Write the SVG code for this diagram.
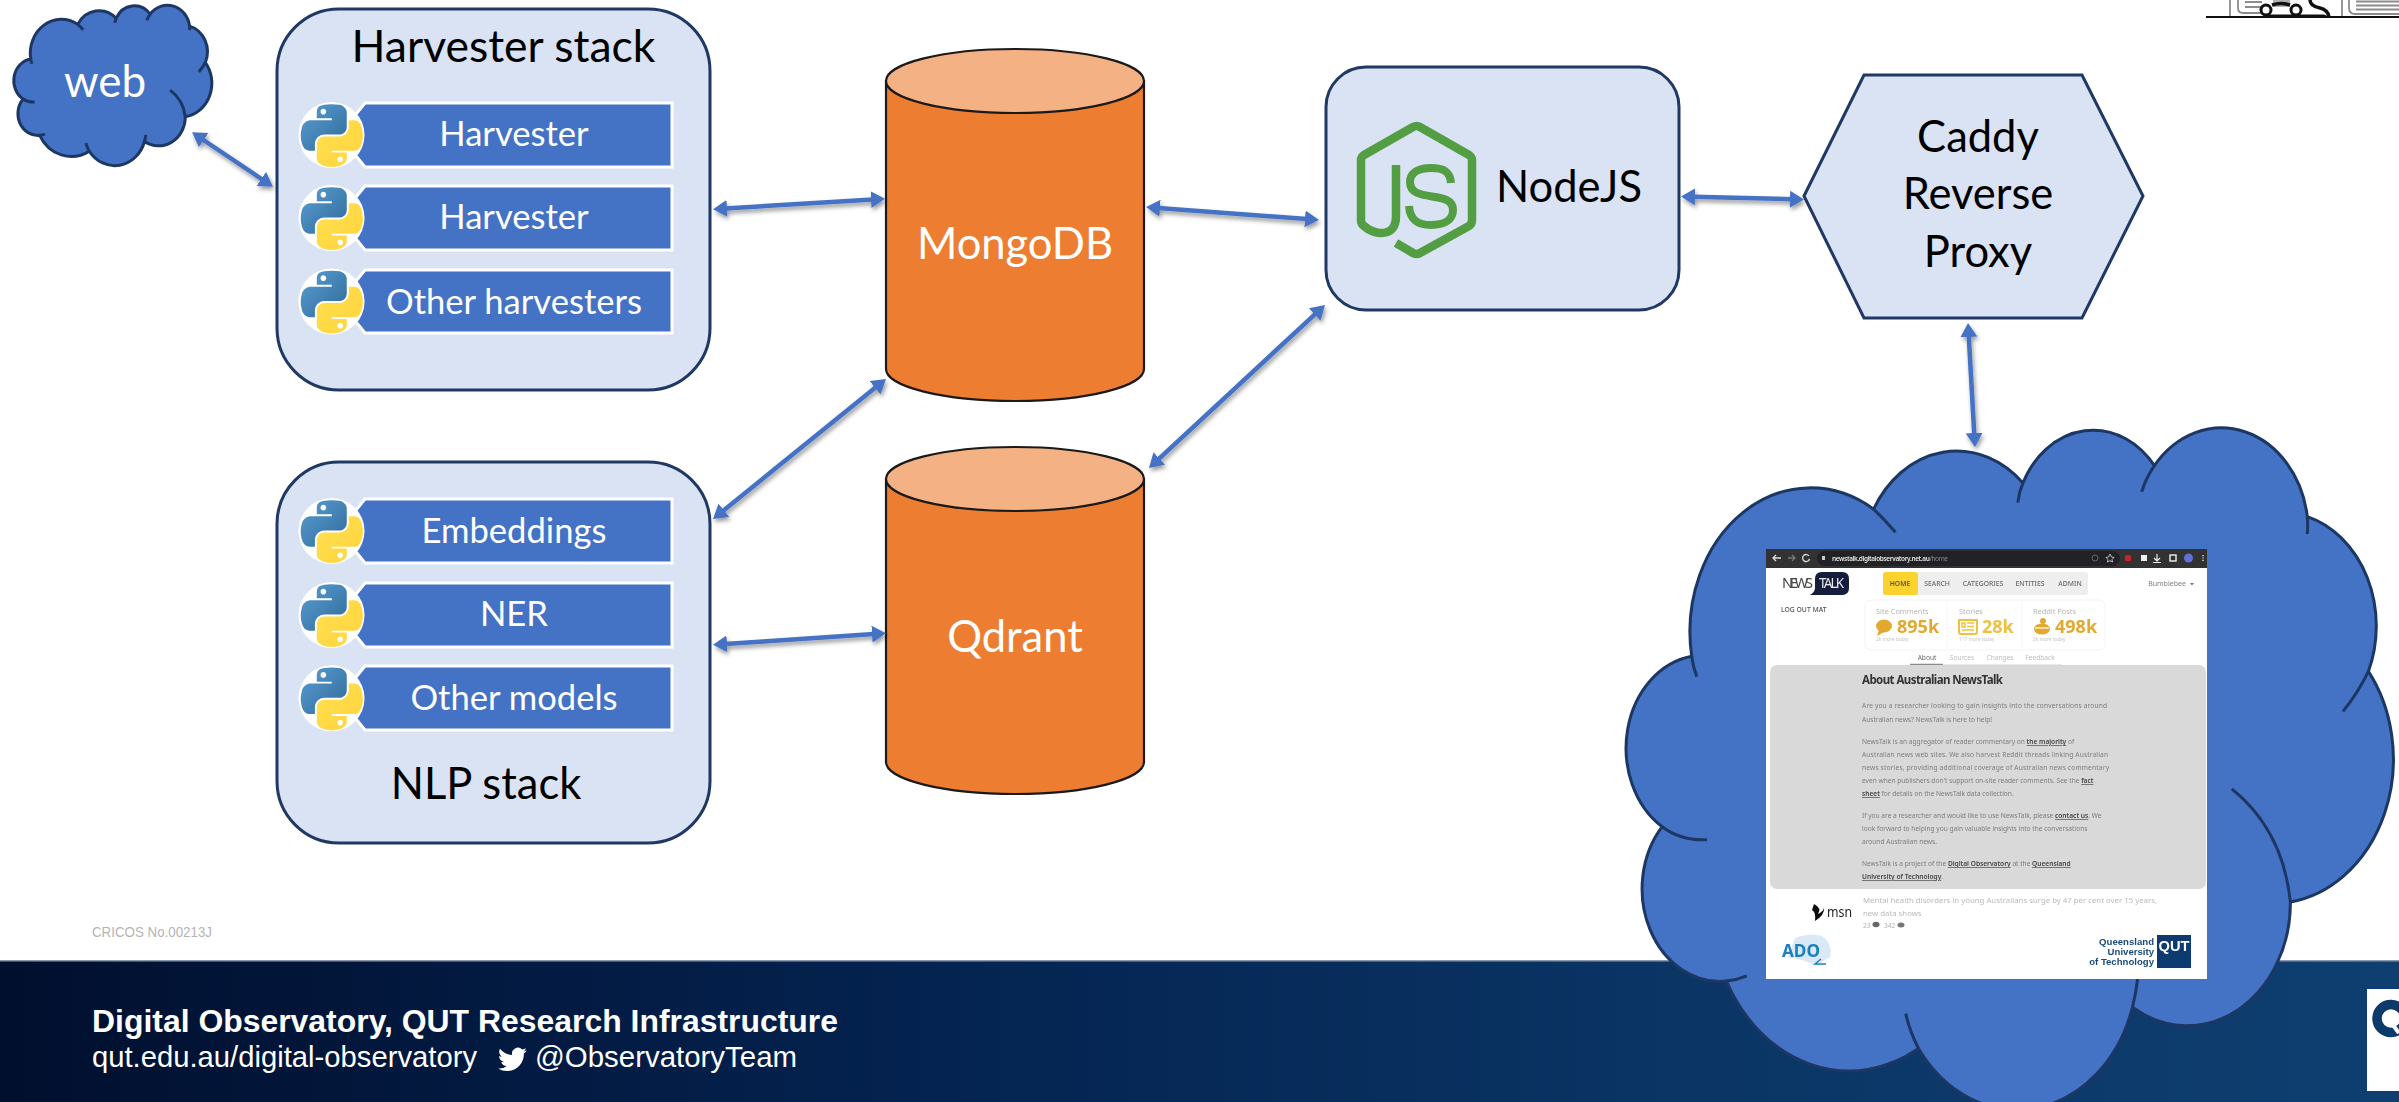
<svg xmlns="http://www.w3.org/2000/svg" xmlns:xlink="http://www.w3.org/1999/xlink" width="2399" height="1102" viewBox="0 0 2399 1102">
<style>
text{font-family:Lato,"Liberation Sans",sans-serif}
.box{fill:#dae3f3;stroke:#1f3864;stroke-width:3}
.bar{fill:#4472c4;stroke:#fff;stroke-width:3}
.wl{fill:#fff;text-anchor:middle;font-size:34.600px}
.bl{fill:#000;text-anchor:middle;font-size:43.500px}
.cyl{fill:#ed7d31;stroke:#1a1a1a;stroke-width:2.2}
.cap{fill:#f4b183;stroke:#1a1a1a;stroke-width:2.2}
.cl{fill:#4472c4;stroke:#1c3763;stroke-width:3;stroke-linejoin:round}
.cli{fill:none;stroke:#1c3763;stroke-width:3}
.conn{fill:none;stroke:#4472c4;stroke-width:4.500;marker-start:url(#ah);marker-end:url(#ah)}
.ft{font-family:"Liberation Sans",Arial,sans-serif;fill:#fff}
#screenshot text{font-family:"Noto Sans","Open Sans",sans-serif}
.p{font-size:6.600px;fill:#7d7d7d}
.p tspan{font-weight:600;fill:#444;text-decoration:underline}
.nav{font-size:6.800px;fill:#6a6a6a;text-anchor:middle;font-weight:500}
.lab{font-size:7.400px;fill:#b5b5b5}
.sub{font-size:4.800px;fill:#c4c4c4}
.num{font-size:18px;font-weight:700;fill:#e3a92f}
.tab{font-size:6.600px;fill:#bdbdbd;text-anchor:middle}
.qu{font-family:"Liberation Sans",Arial,sans-serif!important;font-weight:700;font-size:9.600px;fill:#1b4a7c;text-anchor:end}
.tr{fill:none;stroke:#8c8c8c;stroke-width:1.800}
</style>
<defs>
<linearGradient id="footg" x1="0" x2="1" y1="0" y2="0">
<stop offset="0" stop-color="#010f2e"/><stop offset=".375" stop-color="#04224f"/><stop offset=".7" stop-color="#0a3565"/><stop offset="1" stop-color="#0e3f70"/>
</linearGradient>
<linearGradient id="pyb" x1="0" y1="0" x2="1" y2="1"><stop offset="0" stop-color="#5a9fd4"/><stop offset="1" stop-color="#306998"/></linearGradient>
<linearGradient id="pyy" x1="0" y1="0" x2="1" y2="1"><stop offset="0" stop-color="#ffe052"/><stop offset="1" stop-color="#ffd43b"/></linearGradient>
<marker id="ah" markerUnits="userSpaceOnUse" markerWidth="18" markerHeight="18" viewBox="0 0 18 18" refX="2" refY="9" orient="auto-start-reverse"><path d="M14,9 L0,0.500 L0,17.500 Z" fill="#4472c4"/></marker>
<filter id="shadow" x="-10%" y="-10%" width="120%" height="120%"><feDropShadow dx="1.500" dy="3" stdDeviation="2.200" flood-color="#000" flood-opacity=".4"/></filter>
<filter id="soft" x="-2%" y="-2%" width="104%" height="104%"><feGaussianBlur stdDeviation=".5"/></filter>
<g id="py">
<circle cx="55" cy="55" r="59" fill="#fff"/>
<path fill="url(#pyb)" d="M54.92 0c-4.58.02-8.96.41-12.8 1.09C30.79 3.1 28.74 7.3 28.74 15.03v10.21h26.79v3.4H18.66c-7.79 0-14.6 4.68-16.74 13.58-2.46 10.2-2.57 16.57 0 27.22 1.9 7.93 6.45 13.58 14.24 13.58h9.21V70.8c0-8.84 7.65-16.64 16.74-16.64h26.76c7.45 0 13.39-6.13 13.39-13.61V15.03c0-7.26-6.12-12.71-13.39-13.94C64.28.31 59.5-.02 54.92 0zM40.43 8.21c2.77 0 5.03 2.3 5.03 5.12 0 2.81-2.26 5.1-5.03 5.1-2.78 0-5.03-2.29-5.03-5.1 0-2.82 2.25-5.12 5.03-5.12z"/>
<path fill="url(#pyy)" d="M85.64 28.64v11.91c0 9.23-7.83 17-16.75 17H42.13c-7.33 0-13.39 6.27-13.39 13.61v25.52c0 7.26 6.32 11.53 13.39 13.61 8.47 2.49 16.6 2.94 26.76 0 6.75-1.96 13.39-5.89 13.39-13.61V86.47H55.53v-3.4h40.15c7.79 0 10.69-5.43 13.39-13.58 2.79-8.39 2.67-16.46 0-27.22-1.92-7.75-5.59-13.58-13.39-13.58H85.64zM70.59 93.27c2.78 0 5.03 2.28 5.03 5.1 0 2.82-2.25 5.12-5.03 5.12-2.77 0-5.03-2.3-5.03-5.12 0-2.82 2.26-5.1 5.03-5.1z"/>
</g>
<path id="cloudbody" class="cl" vector-effect="non-scaling-stroke" d="M1691.7,656.2 A120.5,143.8 0 0 1 1873.6,509.2 A95.2,113.7 0 0 1 2022.9,483.1 A77.9,93 0 0 1 2154.4,465.7 A86.7,103.2 0 0 1 2307.3,516.6 A95.2,113.8 0 0 1 2368.4,671.4 A120.9,144.3 0 0 1 2290.4,902 A103.3,123.1 0 0 1 2132.5,1007.2 A120.5,144.2 0 0 1 1918.5,1048.5 A137.8,165 0 0 1 1726.4,981.1 A77.8,92.6 0 0 1 1662.2,826.7 A77.6,93 0 0 1 1691.7,656.2 Z"/>
<path id="cloudinner" class="cli" vector-effect="non-scaling-stroke" d="M1691.7,656.2 Q1693,667 1696.8,676.6 M1662.2,826.7 Q1681,841 1707,839.7 M1726.4,981.1 Q1737,980 1746.8,975.9 M1905.7,1013.7 Q1910,1032 1918.5,1048.5 M2132.5,1007.2 Q2136,993 2137.6,979 M2290.4,902 Q2283,830 2231.8,788.9 M2368.4,671.4 Q2358,693 2343,711.4 M2307.3,516.6 Q2308,525 2307.3,534 M2154.4,465.7 Q2146,478 2141.7,491.8 M2022.9,483.1 Q2019,492 2017.8,502.6 M1873.6,509.2 Q1885,520 1895.5,532.2"/>
</defs>
<rect width="2399" height="1102" fill="#fff"/>

<g id="footer">
<rect x="0" y="961" width="2399" height="141" fill="url(#footg)"/>
<rect x="0" y="960" width="2399" height="1.500" fill="#8d99ad"/>
<text x="92" y="937" font-size="14.500px" style="font-family:'Liberation Sans',Arial,sans-serif" fill="#b4b4b4" textLength="120" lengthAdjust="spacingAndGlyphs">CRICOS No.00213J</text>
<text class="ft" x="92" y="1032" font-size="31.500px" font-weight="700" textLength="746" lengthAdjust="spacingAndGlyphs">Digital Observatory, QUT Research Infrastructure</text>
<text class="ft" x="92" y="1067" font-size="29px" textLength="385" lengthAdjust="spacingAndGlyphs">qut.edu.au/digital-observatory</text>
<path transform="translate(498,1045) scale(1.2)" fill="#fff" d="M23.95 4.57a10 10 0 0 1-2.82.77 4.96 4.96 0 0 0 2.16-2.72c-.95.55-2 .95-3.12 1.18a4.92 4.92 0 0 0-8.38 4.48A13.98 13.98 0 0 1 1.67 3.15a4.93 4.93 0 0 0 1.52 6.57 4.9 4.9 0 0 1-2.23-.61v.06a4.92 4.92 0 0 0 3.95 4.83 5 5 0 0 1-2.22.08 4.94 4.94 0 0 0 4.6 3.42A9.87 9.87 0 0 1 0 19.54a13.94 13.94 0 0 0 7.55 2.21c9.05 0 14-7.5 14-14 0-.21 0-.42-.02-.63a9.94 9.94 0 0 0 2.46-2.55z"/>
<text class="ft" x="535" y="1067" font-size="29px" textLength="262" lengthAdjust="spacingAndGlyphs">@ObservatoryTeam</text>
<rect x="2367" y="989" width="32" height="102" fill="#fff"/>
<circle cx="2391" cy="1018.500" r="14" fill="none" stroke="#0c3a6b" stroke-width="9.500"/>
<path d="M2390,1021 L2399,1033" stroke="#fff" stroke-width="4" fill="none"/>
</g>

<g id="top-right-fragment">
<rect x="2273" y="0" width="17" height="7" fill="#b0b0b0"/>
<path class="tr" d="M2230,0 V17 M2238,0 V8 Q2238,13 2243,13 H2262 M2342,0 V17 M2349,0 V8 Q2349,14 2355,14 H2399 M2245,2 H2262 M2245,7 H2262 M2356,1.500 H2399 M2356,5.500 H2399 M2356,9.500 H2399"/>
<circle cx="2266" cy="10" r="5" fill="#fff" stroke="#111" stroke-width="3"/>
<circle cx="2296" cy="10" r="5" fill="#fff" stroke="#111" stroke-width="3"/>
<path d="M2272,5 Q2281,2 2290,5 M2310,0 Q2310,6 2320,8 Q2328,10 2329,17" fill="none" stroke="#111" stroke-width="3.500"/>
<path d="M2264,17 L2270,14.500 H2324 L2330,17 Z" fill="#111"/>
<path d="M2206,17 H2399" stroke="#111" stroke-width="2" fill="none"/>
</g>

<g id="web">
<use href="#cloudbody" transform="translate(-405.9,-95.4) scale(.2581,.2352)"/>
<use href="#cloudinner" transform="translate(-405.9,-95.4) scale(.2581,.2352)"/>
<text x="105" y="97" font-size="44px" fill="#fff" text-anchor="middle">web</text>
</g>

<g id="harvester-stack">
<rect class="box" x="277" y="9" width="433" height="381" rx="62" ry="62"/>
<text class="bl" x="503.500" y="62" style="font-size:44.500px">Harvester stack</text>
</g>
<g id="harvester-1">
<path class="bar" d="M365,103 H672 V167 H365 L352,151 V119 Z"/>
<use href="#py" transform="translate(300.7,104.2) scale(.56)"/>
<text class="wl" x="514" y="146">Harvester</text>
</g>
<g id="harvester-2">
<path class="bar" d="M365,186 H672 V250 H365 L352,234 V202 Z"/>
<use href="#py" transform="translate(300.7,187.2) scale(.56)"/>
<text class="wl" x="514" y="229">Harvester</text>
</g>
<g id="other-harvesters">
<path class="bar" d="M365,270 H672 V333 H365 L352,317 V286 Z"/>
<use href="#py" transform="translate(300.7,270.7) scale(.56)"/>
<text class="wl" x="514" y="313.500">Other harvesters</text>
</g>

<g id="nlp-stack">
<rect class="box" x="277" y="462" width="433" height="381" rx="62" ry="62"/>
<text class="bl" x="486" y="799">NLP stack</text>
</g>
<g id="embeddings">
<path class="bar" d="M365,499 H672 V563 H365 L352,547 V515 Z"/>
<use href="#py" transform="translate(300.7,500.2) scale(.56)"/>
<text class="wl" x="514" y="543">Embeddings</text>
</g>
<g id="ner">
<path class="bar" d="M365,583 H672 V647 H365 L352,631 V599 Z"/>
<use href="#py" transform="translate(300.7,584.2) scale(.56)"/>
<text class="wl" x="514" y="626">NER</text>
</g>
<g id="other-models">
<path class="bar" d="M365,666 H672 V730 H365 L352,714 V682 Z"/>
<use href="#py" transform="translate(300.7,667.5) scale(.56)"/>
<text class="wl" x="514" y="710">Other models</text>
</g>

<g id="mongodb">
<path class="cyl" d="M886,81 V369 A129,32 0 0 0 1144,369 V81 Z"/>
<ellipse class="cap" cx="1015" cy="81" rx="129" ry="32"/>
<text x="1015" y="259" font-size="43.500px" fill="#fff" text-anchor="middle">MongoDB</text>
</g>
<g id="qdrant">
<path class="cyl" d="M886,479 V762 A129,32 0 0 0 1144,762 V479 Z"/>
<ellipse class="cap" cx="1015" cy="479" rx="129" ry="32"/>
<text x="1015" y="651.500" font-size="43.500px" fill="#fff" text-anchor="middle">Qdrant</text>
</g>

<g id="nodejs">
<rect class="box" x="1326" y="67" width="353" height="243" rx="40" ry="40"/>
<path fill="none" stroke="#539e43" stroke-width="8.500" stroke-linejoin="round" stroke-linecap="butt" d="M1396,165 V216 Q1396,233 1381,233 Q1375,233 1368,229 L1364,226 Q1361,224 1361,220 V160 Q1361,157 1364,155 L1413,127 Q1416.7,125 1420,127 L1469,155 Q1472,157 1472,160 V220 Q1472,224 1469,226 L1420,253 Q1416.7,255 1413,253 L1396,243"/>
<path fill="none" stroke="#539e43" stroke-width="8" d="M1451,183 C1450,171 1443,168 1431,168 C1418,168 1410,173 1410,182 C1410,204 1453,189 1453,210 C1453,220 1444,225 1431,225 C1418,225 1410,220 1409,206"/>
<text x="1569" y="202" font-size="43.500px" fill="#000" text-anchor="middle">NodeJS</text>
</g>

<g id="caddy">
<path class="box" d="M1804,196 L1864,75 H2082 L2143,196 L2082,318 H1864 Z"/>
<text class="bl" x="1978" y="151.500">Caddy</text>
<text class="bl" x="1978" y="208.500">Reverse</text>
<text class="bl" x="1978" y="266.500">Proxy</text>
</g>

<g id="newstalk-cloud">
<use href="#cloudbody"/>
<use href="#cloudinner"/>
<g id="screenshot" filter="url(#soft)">
<rect x="1766" y="549" width="441" height="430" fill="#fff"/>
<rect x="1766" y="549" width="441" height="19" fill="#333"/>
<rect x="1817" y="551" width="303" height="15" rx="7.500" fill="#222326"/>
<path d="M1773,558 H1781 M1776,555 L1773,558 L1776,561" stroke="#ddd" stroke-width="1.300" fill="none"/>
<path d="M1788,558 H1795 M1792,555 L1795,558 L1792,561" stroke="#777" stroke-width="1.300" fill="none"/>
<path d="M1809,556 A3.5,3.5 0 1 0 1809.5,559" stroke="#ddd" stroke-width="1.300" fill="none"/>
<rect x="1822" y="556" width="3" height="4" fill="#ccc"/>
<text x="1832" y="561" font-size="6.500px" font-weight="600" fill="#e4e4e4" textLength="116"><tspan>newstalk.digitalobservatory.net.au</tspan><tspan fill="#888" font-weight="400">/home</tspan></text>
<circle cx="2095" cy="558" r="3" fill="none" stroke="#666" stroke-width="1"/>
<path d="M2110,554 L2111.500,557 L2114,557.500 L2112,559.500 L2112.500,562 L2110,560.700 L2107.500,562 L2108,559.500 L2106,557.500 L2108.500,557 Z" fill="none" stroke="#bbb" stroke-width="1"/>
<rect x="2125" y="555" width="6" height="6" rx="1" fill="#c8222b"/>
<rect x="2141" y="555" width="6" height="6" fill="#eee"/>
<path d="M2157,554 V560 M2154,558 L2157,561 L2160,558 M2153,562.500 H2161" stroke="#eee" stroke-width="1.200" fill="none"/>
<rect x="2170" y="555" width="6" height="6" fill="none" stroke="#eee" stroke-width="1.400"/>
<circle cx="2188.500" cy="558" r="4.500" fill="#5e6fd8"/>
<path d="M2203,555 V561" stroke="#ddd" stroke-width="1.400" stroke-dasharray="1.200 1.200" fill="none"/>

<text x="1782" y="588" font-size="14.500px" fill="#444" textLength="31">NEWS</text>
<path d="M1822,572 H1842 Q1849,572 1849,579 V588 Q1849,595 1842,595 H1810 Q1816,592 1815,585 V579 Q1815,572 1822,572 Z" fill="#171a3a"/>
<text x="1819" y="588" font-size="13.500px" fill="#e8e8ee" textLength="25">TALK</text>

<rect x="1883" y="572" width="205" height="23" rx="3" fill="#eeeeee"/>
<rect x="1883" y="572" width="35" height="23" rx="3" fill="#fbd22d"/>
<text class="nav" x="1900" y="586" style="font-weight:600;fill:#5a5a3c">HOME</text>
<text class="nav" x="1937" y="586">SEARCH</text>
<text class="nav" x="1983" y="586">CATEGORIES</text>
<text class="nav" x="2030" y="586">ENTITIES</text>
<text class="nav" x="2070" y="586">ADMIN</text>
<text x="2167" y="586" font-size="7px" fill="#808080" text-anchor="middle">Bumblebee</text>
<path d="M2190,583 H2194 L2192,585.500 Z" fill="#777"/>
<text x="1781" y="612" font-size="6.800px" fill="#555" font-weight="500">LOG OUT MAT</text>

<rect x="1865" y="600" width="240" height="50" rx="6" fill="#fff" stroke="#f3f3f3"/>
<path d="M1947,602 V648 M2022,602 V648" stroke="#f6f6f6"/>
<text class="lab" x="1876" y="614">Site Comments</text>
<text class="lab" x="1959" y="614">Stories</text>
<text class="lab" x="2033" y="614">Reddit Posts</text>
<ellipse cx="1884" cy="626" rx="8" ry="6.500" fill="#e3a92f"/><path d="M1879,630 L1877,636 L1884,632 Z" fill="#e3a92f"/>
<text class="num" x="1897" y="633">895k</text>
<path d="M1959,620 H1977 V632 Q1977,634 1975,634 H1961 Q1959,634 1959,632 Z" fill="none" stroke="#efc23c" stroke-width="2"/>
<path d="M1967,623 H1974 M1967,626.500 H1974 M1962,630 H1974 M1962,623 H1965 V627 H1962 Z" stroke="#efc23c" stroke-width="1.500" fill="none"/>
<text class="num" x="1982" y="633" style="fill:#efc23c">28k</text>
<ellipse cx="2042" cy="629" rx="8" ry="5.500" fill="#e3a92f"/><circle cx="2043" cy="621" r="3" fill="#e3a92f"/>
<path d="M2035,628 H2049" stroke="#fff" stroke-width="1.200"/>
<text class="num" x="2055" y="633">498k</text>
<text class="sub" x="1876" y="641">2k more today</text>
<text class="sub" x="1959" y="641">117 more today</text>
<text class="sub" x="2033" y="641">2k more today</text>

<text class="tab" x="1927" y="660" style="fill:#666">About</text>
<text class="tab" x="1962" y="660">Sources</text>
<text class="tab" x="2000" y="660">Changes</text>
<text class="tab" x="2040" y="660">Feedback</text>
<path d="M1943,664.500 H2062" stroke="#ebebeb" stroke-width="1"/>
<path d="M1910,664.500 H1943" stroke="#8a8a8a" stroke-width="1.500"/>

<rect x="1770" y="665" width="436" height="224" rx="7" fill="#d9d9d9"/>
<text x="1862" y="684" font-size="11.500px" font-weight="700" fill="#333" textLength="141">About Australian NewsTalk</text>
<text class="p" x="1862" y="708" textLength="245">Are you a researcher looking to gain insights into the conversations around</text>
<text class="p" x="1862" y="722">Australian news? NewsTalk is here to help!</text>
<text class="p" x="1862" y="744">NewsTalk is an aggregator of reader commentary on <tspan>the majority</tspan> of</text>
<text class="p" x="1862" y="757" textLength="246">Australian news web sites. We also harvest Reddit threads linking Australian</text>
<text class="p" x="1862" y="770" textLength="247">news stories, providing additional coverage of Australian news commentary</text>
<text class="p" x="1862" y="783">even when publishers don't support on-site reader comments. See the <tspan>fact</tspan></text>
<text class="p" x="1862" y="796"><tspan>sheet</tspan> for details on the NewsTalk data collection.</text>
<text class="p" x="1862" y="818">If you are a researcher and would like to use NewsTalk, please <tspan>contact us</tspan>. We</text>
<text class="p" x="1862" y="831">look forward to helping you gain valuable insights into the conversations</text>
<text class="p" x="1862" y="844">around Australian news.</text>
<text class="p" x="1862" y="866">NewsTalk is a project of the <tspan>Digital Observatory</tspan> at the <tspan>Queensland</tspan></text>
<text class="p" x="1862" y="879"><tspan>University of Technology</tspan>.</text>

<text x="1863" y="903" font-size="7.800px" fill="#b9b9b9" textLength="294">Mental health disorders in young Australians surge by 47 per cent over 15 years,</text>
<text x="1863" y="916" font-size="7.800px" fill="#b9b9b9">new data shows</text>
<text x="1863" y="928" font-size="6.600px" fill="#b0b0b0">23</text>
<ellipse cx="1876" cy="924.500" rx="3.500" ry="2.800" fill="#666"/>
<text x="1884" y="928" font-size="6.600px" fill="#b0b0b0">342</text>
<ellipse cx="1901" cy="925" rx="3.500" ry="2.500" fill="#777"/>
<path d="M1814,904 Q1822,908 1818,914 Q1824,911 1824,907 Q1825,915 1815,921 Q1816,912 1812,910 Z" fill="#111"/>
<text x="1827" y="917" font-size="15px" fill="#222" textLength="25" lengthAdjust="spacingAndGlyphs">msn</text>

<path d="M1795,938 Q1810,932 1822,936 Q1833,944 1830,957 L1815,966 Q1802,958 1788,958 Z" fill="#d9eaf6"/>
<text x="1782" y="957" font-size="18px" font-weight="700" fill="#1b7fc0" textLength="38" lengthAdjust="spacingAndGlyphs">ADO</text>
<path d="M1821,959 L1815,964 H1826" fill="none" stroke="#1b7fc0" stroke-width="1.400"/>

<rect x="2157" y="935" width="34" height="33" fill="#0b3a6f"/>
<text x="2174" y="951" font-size="15px" font-weight="700" fill="#fff" text-anchor="middle" style="font-family:'Liberation Sans',Arial,sans-serif" textLength="31" lengthAdjust="spacingAndGlyphs">QUT</text>
<text class="qu" x="2154" y="945">Queensland</text>
<text class="qu" x="2154" y="955">University</text>
<text class="qu" x="2154" y="965">of Technology</text>
</g>
</g>

<g id="connectors" filter="url(#shadow)">
<path class="conn" d="M202,139 L263,180"/>
<path class="conn" d="M725,208.500 L873,199.500"/>
<path class="conn" d="M722.300,511.500 L876.700,386.500"/>
<path class="conn" d="M725,644 L874,634"/>
<path class="conn" d="M1158,208 L1307,219"/>
<path class="conn" d="M1157.800,459.900 L1316.200,313.100"/>
<path class="conn" d="M1693,196.800 L1792,199.200"/>
<path class="conn" d="M1968.700,335 L1974.300,435"/>
</g>
</svg>
